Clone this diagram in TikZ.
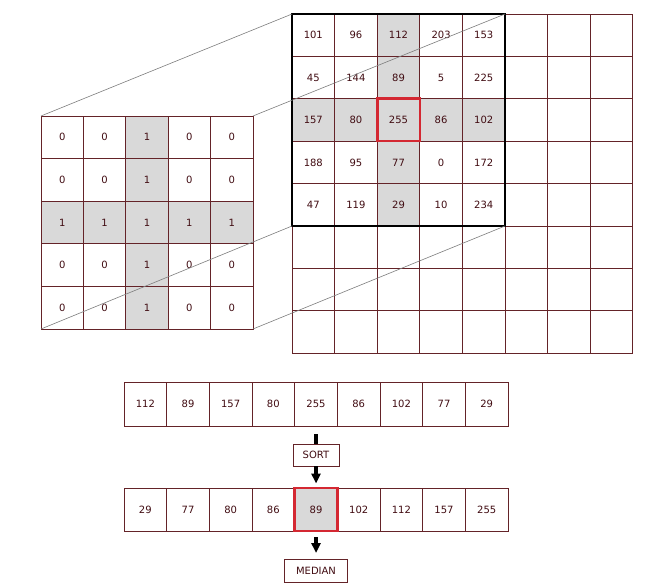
\documentclass[tikz,border=0pt]{standalone}
\usepackage{fontspec}
\setmainfont{DejaVu Sans}
\usetikzlibrary{arrows.meta}
\definecolor{gridc}{RGB}{100,35,40}
\definecolor{textc}{RGB}{65,12,18}
\definecolor{shadec}{RGB}{217,217,217}
\definecolor{redc}{RGB}{212,40,50}
\definecolor{persp}{RGB}{125,125,125}
\tikzset{
  cellbox/.style={draw=gridc, line width=0.8pt, inner sep=0pt, outer sep=0pt,
    text=textc, font=\fontsize{10}{11}\selectfont},
  kcell/.style={cellbox, minimum width=42.4pt, minimum height=42.6pt},
  gcell/.style={cellbox, minimum width=42.6pt, minimum height=42.4pt},
  acell/.style={cellbox, minimum width=42.67pt, minimum height=44pt},
  bcell/.style={cellbox, minimum width=42.67pt, minimum height=43pt},
  shaded/.style={fill=shadec},
  plain/.style={fill=white},
  labelbox/.style={cellbox, fill=white},
  perspline/.style={draw=persp, line width=0.6pt},
  redframe/.style={draw=redc, line width=2.6pt},
  blackframe/.style={draw=black, line width=2.2pt},
  stem/.style={draw=black, line width=3.6pt},
  stemarrow/.style={stem, -{Triangle[width=9pt,length=10pt]}}
}
\begin{document}
\begin{tikzpicture}[x=1pt,y=-1pt]
\useasboundingbox (0,0) rectangle (648,588);
% kernel grid
\foreach \rowvals [count=\r] in {{0,0,1,0,0},{0,0,1,0,0},{1,1,1,1,1},{0,0,1,0,0},{0,0,1,0,0}}{
  \foreach \v [count=\c] in \rowvals {
    \ifnum\v=1 \def\fc{shaded}\else\def\fc{plain}\fi
    \node[kcell,\fc] (k-\r-\c) at ({41+42.4*(\c-0.5)},{116+42.6*(\r-0.5)}) {\v};
  }
}
% image grid, empty cells
\foreach \r in {1,...,8}{
  \foreach \c in {1,...,8}{
    \ifnum\r>5 \node[gcell,plain] (g-\r-\c) at ({292+42.6*(\c-0.5)},{14+42.4*(\r-0.5)}) {};
    \else\ifnum\c>5 \node[gcell,plain] (g-\r-\c) at ({292+42.6*(\c-0.5)},{14+42.4*(\r-0.5)}) {};\fi\fi
  }
}
% image grid, valued cells
\foreach \rowvals [count=\r] in {{101,96,112,203,153},{45,144,89,5,225},{157,80,255,86,102},{188,95,77,0,172},{47,119,29,10,234}}{
  \foreach \v [count=\c] in \rowvals {
    \ifnum\r=3 \def\fc{shaded}\else\ifnum\c=3 \def\fc{shaded}\else\def\fc{plain}\fi\fi
    \node[gcell,\fc] (g-\r-\c) at ({292+42.6*(\c-0.5)},{14+42.4*(\r-0.5)}) {\v};
  }
}
\draw[blackframe] (g-1-1.north west) rectangle (g-5-5.south east);
\draw[redframe] (g-3-3.north west) rectangle (g-3-3.south east);
% perspective lines
\draw[perspline] (k-1-1.north west) -- (g-1-1.north west);
\draw[perspline] (k-1-5.north east) -- (g-1-5.north east);
\draw[perspline] (k-5-1.south west) -- (g-5-1.south west);
\draw[perspline] (k-5-5.south east) -- (g-5-5.south east);
% unsorted array
\foreach \v [count=\i] in {112,89,157,80,255,86,102,77,29}{
  \node[acell,plain] (a-\i) at ({124+42.67*(\i-0.5)},404) {\v};
}
% sorted array
\foreach \v [count=\i] in {29,77,80,86,89,102,112,157,255}{
  \ifnum\i=5 \def\fc{shaded}\else\def\fc{plain}\fi
  \node[bcell,\fc] (b-\i) at ({124+42.67*(\i-0.5)},509.5) {\v};
}
\draw[redframe] (b-5.north west) rectangle (b-5.south east);
% labels
\node[labelbox, minimum width=46pt, minimum height=22pt] (sort) at ({124+42.67*4.5},455) {SORT};
\node[labelbox, minimum width=63pt, minimum height=23pt] (median) at ({124+42.67*4.5},570.5) {MEDIAN};
% connectors
\coordinate (s0) at ([yshift=-8pt]a-5.south);
\draw[stem] (s0) -- (sort.north);
\draw[stemarrow, shorten >=4.5pt] (sort.south) -- (b-5.north);
\draw[stemarrow, shorten <=6pt, shorten >=6pt] (b-5.south) -- (median.north);
\end{tikzpicture}
\end{document}
